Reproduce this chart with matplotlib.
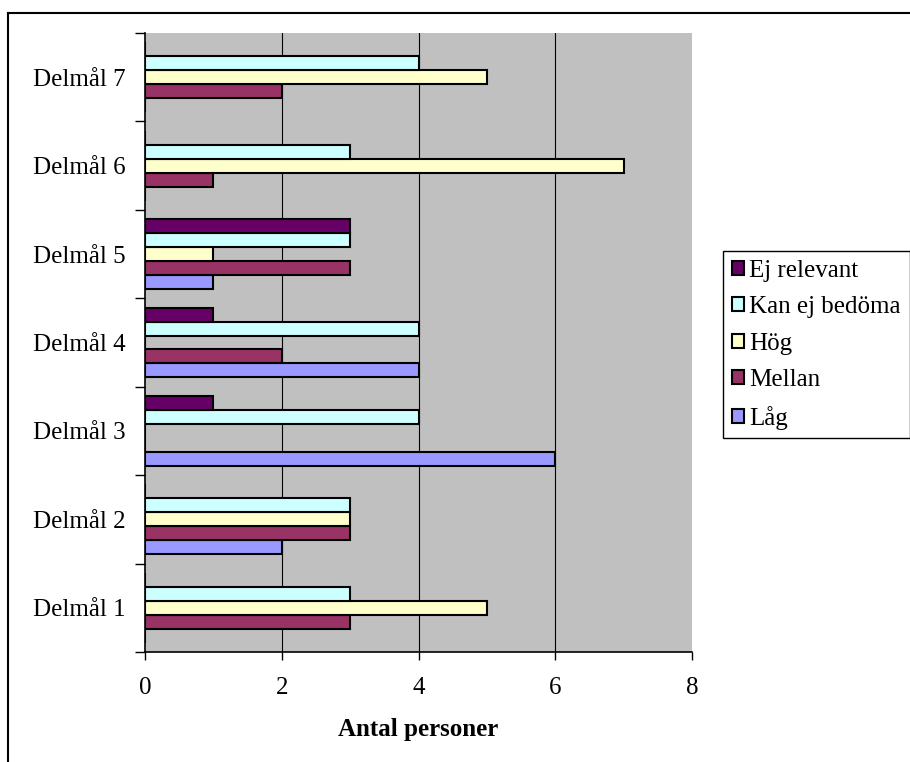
import numpy as np
import matplotlib
matplotlib.use("Agg")
import matplotlib.pyplot as plt
from matplotlib.patches import Rectangle
from matplotlib.lines import Line2D

plt.rcParams['font.family'] = ['Liberation Serif', 'DejaVu Serif']

categories = ['Delmål 1', 'Delmål 2', 'Delmål 3', 'Delmål 4', 'Delmål 5', 'Delmål 6', 'Delmål 7']
series = ['Låg', 'Mellan', 'Hög', 'Kan ej bedöma', 'Ej relevant']
colors = ['#9999FF', '#993366', '#FFFFCC', '#CCFFFF', '#660066']

lag = [0, 2, 6, 4, 1, 0, 0]
mellan = [3, 3, 0, 2, 3, 1, 2]
hog = [5, 3, 0, 0, 1, 7, 5]
kan_ej = [3, 3, 4, 4, 3, 3, 4]
ej_relevant = [0, 0, 1, 1, 3, 0, 0]
values = [lag, mellan, hog, kan_ej, ej_relevant]

fig = plt.figure(figsize=(9.1, 7.62), dpi=100)
ax = fig.add_axes([145 / 910, 1 - 652 / 762, (692 - 145) / 910, (652 - 33) / 762])
ax.set_facecolor('#C0C0C0')

y = np.arange(len(categories))
h = 0.158
for i, (name, vals, col) in enumerate(zip(series, values, colors)):
    ax.barh(y + (i - 2) * h, vals, height=h, color=col, edgecolor='black',
            linewidth=1.5, label=name, zorder=3)

ax.set_xlim(0, 8)
ax.set_ylim(-0.5, len(categories) - 0.5)
ax.set_xticks([0, 2, 4, 6, 8])
for gx in [2, 4, 6]:
    ax.axvline(gx, color='black', linewidth=0.8, zorder=1)

# category labels between the boundary ticks
ax.set_yticks(np.arange(-0.5, len(categories)), minor=False)
ax.set_yticklabels([])
ax.set_yticks(y, minor=True)
ax.set_yticklabels(categories, minor=True)
ax.tick_params(axis='y', which='minor', length=0, pad=14, labelsize=18)
ax.tick_params(axis='y', which='major', length=7, width=1, direction='out')
ax.tick_params(axis='x', length=6, width=1, direction='out', labelsize=18, pad=12)

for s in ['top', 'right']:
    ax.spines[s].set_visible(False)
ax.spines['left'].set_linewidth(1.2)
ax.spines['bottom'].set_linewidth(1.2)

ax.set_xlabel('Antal personer', fontsize=18, fontweight='bold', labelpad=14)

handles = [Rectangle((0, 0), 1, 1, facecolor=c, edgecolor='black', linewidth=1.5)
           for c in colors][::-1]
leg = fig.legend(handles, series[::-1], loc='upper left',
                 bbox_to_anchor=(723 / 910, 1 - 251 / 762), fontsize=18,
                 handlelength=0.5, handleheight=0.5, handletextpad=0.2,
                 labelspacing=0.58, borderpad=0.35, borderaxespad=0,
                 fancybox=False, framealpha=1)
leg.get_frame().set_edgecolor('black')
leg.get_frame().set_linewidth(1.0)

# outer chart border (left and top edges)
fig.add_artist(Line2D([8 / 910, 8 / 910], [0, 1 - 13 / 762], color='black', linewidth=1.5))
fig.add_artist(Line2D([8 / 910, 1], [1 - 13 / 762, 1 - 13 / 762], color='black', linewidth=1.5))

fig.savefig('out.png', dpi=100)
